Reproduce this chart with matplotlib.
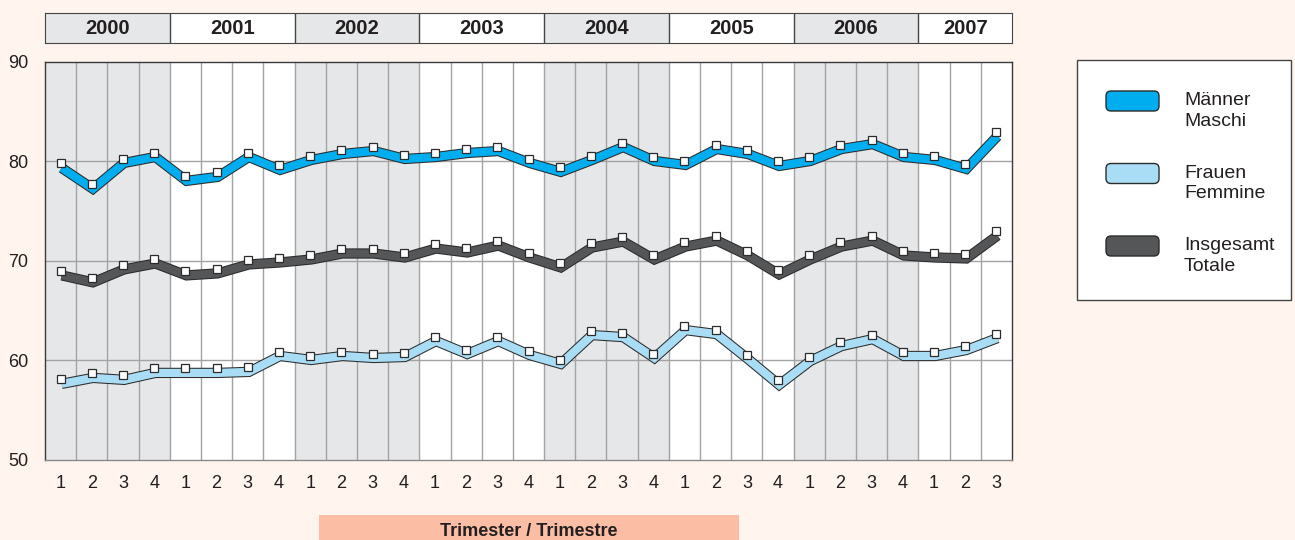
import numpy as np
import matplotlib.pyplot as plt
import matplotlib.patheffects as pe
from matplotlib.patches import Rectangle, FancyBboxPatch

plt.rcParams['font.family'] = ['Liberation Sans', 'DejaVu Sans']

# data: quarterly values 2000 Q1 .. 2007 Q3
years = ['2000', '2001', '2002', '2003', '2004', '2005', '2006', '2007']
quarters_per_year = [4, 4, 4, 4, 4, 4, 4, 3]
quarter_labels = [str(q + 1) for n in quarters_per_year for q in range(n)]

men = [79.8, 77.7, 80.3, 80.9, 78.5, 78.9, 80.9, 79.6,
       80.6, 81.2, 81.5, 80.7, 80.9, 81.3, 81.5, 80.3,
       79.4, 80.6, 81.9, 80.5, 80.1, 81.7, 81.2, 80.0,
       80.5, 81.7, 82.2, 80.9, 80.6, 79.7, 83.0]
women = [58.1, 58.7, 58.5, 59.2, 59.2, 59.2, 59.3, 60.9,
         60.5, 60.9, 60.7, 60.8, 62.4, 61.1, 62.4, 61.0,
         60.1, 63.0, 62.8, 60.7, 63.5, 63.1, 60.6, 58.0,
         60.4, 61.9, 62.6, 60.9, 60.9, 61.5, 62.7]
total = [69.0, 68.3, 69.6, 70.2, 69.0, 69.2, 70.1, 70.3,
         70.6, 71.2, 71.2, 70.8, 71.7, 71.3, 72.0, 70.8,
         69.8, 71.8, 72.4, 70.6, 71.9, 72.5, 71.0, 69.1,
         70.6, 71.9, 72.5, 71.0, 70.8, 70.7, 73.0]

legend_labels = ['Männer\nMaschi', 'Frauen\nFemmine', 'Insgesamt\nTotale']

# colours
BG = '#fff4ee'
SHADE = '#e6e7e8'
GRID = '#a3a3a3'
EDGE = '#2b2b2b'
TXT = '#231f20'
C_MEN = '#00aeef'
C_WOMEN = '#a9ddf6'
C_TOTAL = '#555658'
C_BOX = '#fbbea5'

W, H = 1295, 540


def box(left, top, right, bottom):
    return [left / W, 1 - bottom / H, (right - left) / W, (bottom - top) / H]


fig = plt.figure(figsize=(W / 100, H / 100), dpi=100, facecolor=BG)
ax = fig.add_axes(box(45, 62, 1012, 460))
hdr = fig.add_axes(box(45, 13, 1012, 43), sharex=ax)

x = np.arange(len(quarter_labels))
starts = np.cumsum([0] + quarters_per_year[:-1])

# year shading + header
for i, (yr, s, n) in enumerate(zip(years, starts, quarters_per_year)):
    col = SHADE if i % 2 == 0 else 'white'
    ax.axvspan(s - 0.5, s + n - 0.5, color=col, lw=0, zorder=0)
    hdr.axvspan(s - 0.5, s + n - 0.5, color=col, lw=0, zorder=0)
    hdr.text(s + (n - 1) / 2, 0.47, yr, ha='center', va='center',
             fontsize=14.5, fontweight='bold', color=TXT)
    if i > 0:
        hdr.axvline(s - 0.5, color='#444444', lw=1)

hdr.set_ylim(0, 1)
hdr.tick_params(left=False, bottom=False, labelleft=False, labelbottom=False)
for sp in hdr.spines.values():
    sp.set_color('#444444')

# grid
for k in x[:-1]:
    ax.axvline(k + 0.5, color=GRID, lw=1, zorder=1)
for v in [60, 70, 80]:
    ax.axhline(v, color=GRID, lw=1, zorder=1)


def ribbon(vals, color):
    off = (0.8, -3.2)
    ax.plot(x, vals, color=color, solid_joinstyle='miter', solid_capstyle='butt',
            zorder=3,
            path_effects=[pe.Stroke(linewidth=7.4, foreground=EDGE, offset=off,
                                    joinstyle='miter', capstyle='butt'),
                          pe.Stroke(linewidth=5.9, foreground=color, offset=off,
                                    joinstyle='miter', capstyle='butt')])
    ax.plot(x, vals, ls='none', marker='s', ms=5.2, mfc='white', mec=EDGE,
            mew=0.9, zorder=4)


ribbon(total, C_TOTAL)
ribbon(women, C_WOMEN)
ribbon(men, C_MEN)

ax.set_xlim(-0.5, len(x) - 0.5)
ax.set_ylim(50, 90)
ax.set_yticks([50, 60, 70, 80, 90])
ax.set_xticks(x)
ax.set_xticklabels(quarter_labels)
ax.tick_params(length=0, labelsize=13, colors=TXT)
ax.tick_params(axis='y', pad=12)
ax.tick_params(axis='x', pad=11)
for name, sp in ax.spines.items():
    sp.set_color('#3a3a3a' if name != 'bottom' else '#8a8a8a')
    sp.set_linewidth(1)

# overlay in pixel coordinates for legend and axis caption
ov = fig.add_axes([0, 0, 1, 1], zorder=5)
ov.set_xlim(0, W)
ov.set_ylim(H, 0)
ov.axis('off')
ov.patch.set_alpha(0)

ov.add_patch(Rectangle((1077, 60), 214, 240, facecolor='white',
                       edgecolor='#444444', lw=1))
for j, (lab, col) in enumerate(zip(legend_labels, [C_MEN, C_WOMEN, C_TOTAL])):
    cy = 101 + j * 72.5
    ov.add_patch(FancyBboxPatch((1106, cy - 10), 53, 20,
                                boxstyle='round,pad=0,rounding_size=5',
                                facecolor=col, edgecolor=EDGE, lw=1))
    ov.text(1184, cy + 10, lab, ha='left', va='center', fontsize=14,
            linespacing=1.3, color=TXT)

ov.add_patch(Rectangle((319, 515), 420, 30, facecolor=C_BOX, lw=0))
ov.text(529, 532, 'Trimester / Trimestre', ha='center', va='center',
        fontsize=13, fontweight='bold', color=TXT)

fig.savefig('out.png', dpi=100, facecolor=BG)
